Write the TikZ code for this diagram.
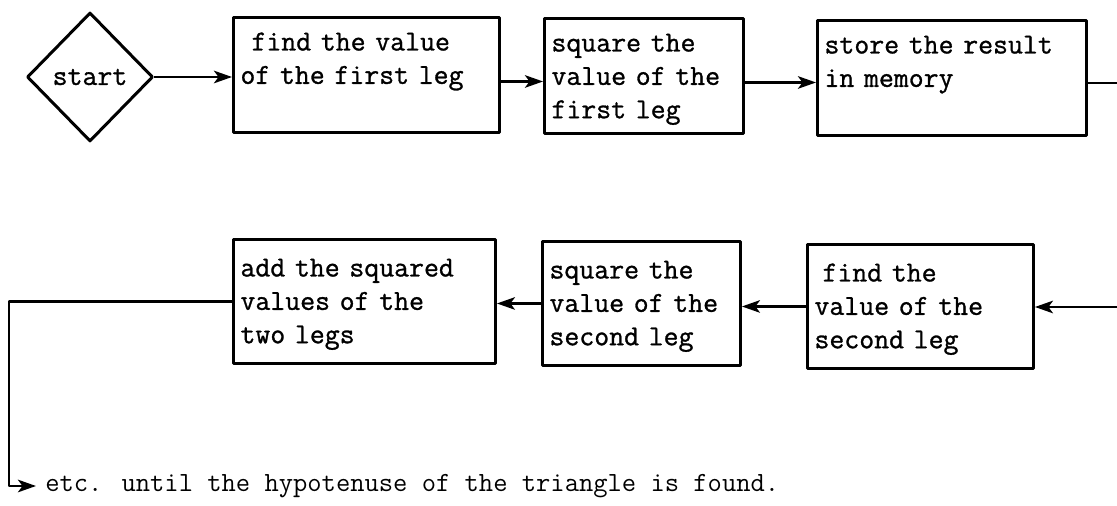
\documentclass[tikz,border=0pt]{standalone}
\usepackage{fontspec}
\newfontfamily\typer{Latin Modern Mono}[FakeBold=1.0]
\usetikzlibrary{arrows.meta, shapes.geometric}
\tikzset{
  every picture/.style={line join=round},
  stepbox/.style={rectangle, draw, line width=1.7pt, anchor=north west, align=left,
    inner xsep=0.14cm, inner ysep=0.12cm, font=\typer\fontsize{16.5}{19}\selectfont},
  rowone/.style={stepbox, text height=0.54cm, text depth=1.52cm},
  rowtwo/.style={stepbox, text height=0.62cm, text depth=1.62cm},
  startbox/.style={diamond, draw, line width=1.7pt, minimum width=2.52cm,
    minimum height=2.58cm, inner sep=0pt, font=\typer\fontsize{16.5}{19}\selectfont},
  flow/.style={-{Stealth[length=3.6mm, width=2.5mm, inset=0.9mm]}, line width=1.5pt},
  wire/.style={line width=1.5pt},
  tail/.style={anchor=west, inner xsep=0.18cm, inner ysep=0pt,
    font=\ttfamily\fontsize{15.8}{18}\selectfont},
}

\begin{document}
\begin{tikzpicture}[x=0.02cm, y=-0.02cm]
\useasboundingbox (0,0) rectangle (1117,506);

% ---- first row: start, then the first leg
\node[startbox] (start) at (90,77) {start};
\node[rowone, text width=5.04cm] (find1)   at (232,16) {\hspace*{0.22cm}find the value\\of the first leg};
\node[rowone, text width=3.70cm] (square1) at (543,17) {square the\\value of the\\first leg};
\node[rowone, text width=5.10cm] (store)   at (816,19) {store the result\\in memory};

\draw[flow] (start.east) -- (start.east -| find1.west);
\draw[flow] ([yshift=-0.13cm]find1.east) -- ([yshift=-0.13cm]find1.east -| square1.west);
\draw[flow] ([yshift=-0.13cm]square1.east) -- ([yshift=-0.13cm]square1.east -| store.west);

% leaves the page on the right, comes back on the second row
\coordinate (offright) at (1117,81);
\coordinate (onright)  at (1117,307);
\draw[wire] ([yshift=-0.1cm]store.east) -- ([yshift=-0.1cm]store.east -| offright);

% ---- second row, read from right to left
\node[rowtwo, text width=4.24cm] (find2)   at (806,243) {\hspace*{0.16cm}find the\\value of the\\second leg};
\node[rowtwo, text width=3.68cm] (square2) at (541,240) {square the\\value of the\\second leg};
\node[rowtwo, text width=4.96cm] (add)     at (232,238) {add the squared\\values of the\\two legs};

\draw[flow] (onright) -- (onright -| find2.east);
\draw[flow] (find2.west) -- (find2.west -| square2.east);
\draw[flow] (square2.west) -- (square2.west -| add.east);

% ---- and so on
\node[tail] (etc) at (36,486) {etc. until the hypotenuse of the triangle is found.};
\coordinate (bend) at (9,400);
\draw[flow] (add.west) -| (bend) |- (etc.west);

\end{tikzpicture}
\end{document}
